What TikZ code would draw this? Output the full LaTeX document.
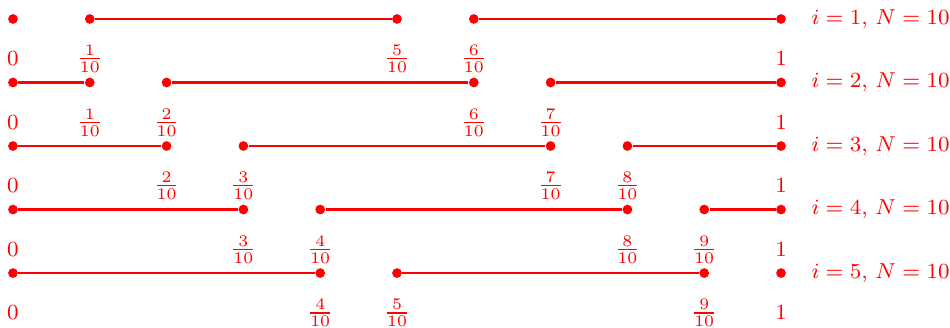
\documentclass[tikz,border=0pt]{standalone}
\usepackage{tikz}
\usepackage{xcolor}

\begin{document}
\begin{tikzpicture}[
x=1cm,
y=0.827cm,
point/.style={circle, fill=red, inner sep=0pt, minimum size=3.6pt},
segment/.style={red, line width=0.9pt},
etiquette/.style={red, font=\footnotesize, inner sep=0pt},
titre/.style={red, font=\footnotesize, inner sep=0pt, anchor=west}
]

% Cadre
\useasboundingbox (-0.169,0.299) rectangle (12.2,-4.85);

% Ligne i = 1
\node[point] (a0) at (0,0) {};
\node[point] (a1) at (1,0) {};
\node[point] (a5) at (5,0) {};
\node[point] (a6) at (6,0) {};
\node[point] (a10) at (10,0) {};
\draw[segment] (a1) -- (a5);
\draw[segment] (a6) -- (a10);
\node[etiquette] (la0) at ([yshift=-0.52cm]a0) {$0$};
\node[etiquette] (la1) at ([yshift=-0.52cm]a1) {$\frac{1}{10}$};
\node[etiquette] (la5) at ([yshift=-0.52cm]a5) {$\frac{5}{10}$};
\node[etiquette] (la6) at ([yshift=-0.52cm]a6) {$\frac{6}{10}$};
\node[etiquette] (la10) at ([yshift=-0.52cm]a10) {$1$};
\node[titre] (ta) at ([xshift=0.32cm]a10.east) {$i=1,\,N=10$};

% Ligne i = 2
\node[point] (b0) at (0,-1) {};
\node[point] (b1) at (1,-1) {};
\node[point] (b2) at (2,-1) {};
\node[point] (b6) at (6,-1) {};
\node[point] (b7) at (7,-1) {};
\node[point] (b10) at (10,-1) {};
\draw[segment] (b0) -- (b1);
\draw[segment] (b2) -- (b6);
\draw[segment] (b7) -- (b10);
\node[etiquette] (lb0) at ([yshift=-0.52cm]b0) {$0$};
\node[etiquette] (lb1) at ([yshift=-0.52cm]b1) {$\frac{1}{10}$};
\node[etiquette] (lb2) at ([yshift=-0.52cm]b2) {$\frac{2}{10}$};
\node[etiquette] (lb6) at ([yshift=-0.52cm]b6) {$\frac{6}{10}$};
\node[etiquette] (lb7) at ([yshift=-0.52cm]b7) {$\frac{7}{10}$};
\node[etiquette] (lb10) at ([yshift=-0.52cm]b10) {$1$};
\node[titre] (tb) at ([xshift=0.32cm]b10.east) {$i=2,\,N=10$};

% Ligne i = 3
\node[point] (c0) at (0,-2) {};
\node[point] (c2) at (2,-2) {};
\node[point] (c3) at (3,-2) {};
\node[point] (c7) at (7,-2) {};
\node[point] (c8) at (8,-2) {};
\node[point] (c10) at (10,-2) {};
\draw[segment] (c0) -- (c2);
\draw[segment] (c3) -- (c7);
\draw[segment] (c8) -- (c10);
\node[etiquette] (lc0) at ([yshift=-0.52cm]c0) {$0$};
\node[etiquette] (lc2) at ([yshift=-0.52cm]c2) {$\frac{2}{10}$};
\node[etiquette] (lc3) at ([yshift=-0.52cm]c3) {$\frac{3}{10}$};
\node[etiquette] (lc7) at ([yshift=-0.52cm]c7) {$\frac{7}{10}$};
\node[etiquette] (lc8) at ([yshift=-0.52cm]c8) {$\frac{8}{10}$};
\node[etiquette] (lc10) at ([yshift=-0.52cm]c10) {$1$};
\node[titre] (tc) at ([xshift=0.32cm]c10.east) {$i=3,\,N=10$};

% Ligne i = 4
\node[point] (d0) at (0,-3) {};
\node[point] (d3) at (3,-3) {};
\node[point] (d4) at (4,-3) {};
\node[point] (d8) at (8,-3) {};
\node[point] (d9) at (9,-3) {};
\node[point] (d10) at (10,-3) {};
\draw[segment] (d0) -- (d3);
\draw[segment] (d4) -- (d8);
\draw[segment] (d9) -- (d10);
\node[etiquette] (ld0) at ([yshift=-0.52cm]d0) {$0$};
\node[etiquette] (ld3) at ([yshift=-0.52cm]d3) {$\frac{3}{10}$};
\node[etiquette] (ld4) at ([yshift=-0.52cm]d4) {$\frac{4}{10}$};
\node[etiquette] (ld8) at ([yshift=-0.52cm]d8) {$\frac{8}{10}$};
\node[etiquette] (ld9) at ([yshift=-0.52cm]d9) {$\frac{9}{10}$};
\node[etiquette] (ld10) at ([yshift=-0.52cm]d10) {$1$};
\node[titre] (td) at ([xshift=0.32cm]d10.east) {$i=4,\,N=10$};

% Ligne i = 5
\node[point] (e0) at (0,-4) {};
\node[point] (e4) at (4,-4) {};
\node[point] (e5) at (5,-4) {};
\node[point] (e9) at (9,-4) {};
\node[point] (e10) at (10,-4) {};
\draw[segment] (e0) -- (e4);
\draw[segment] (e5) -- (e9);
\node[etiquette] (le0) at ([yshift=-0.52cm]e0) {$0$};
\node[etiquette] (le4) at ([yshift=-0.52cm]e4) {$\frac{4}{10}$};
\node[etiquette] (le5) at ([yshift=-0.52cm]e5) {$\frac{5}{10}$};
\node[etiquette] (le9) at ([yshift=-0.52cm]e9) {$\frac{9}{10}$};
\node[etiquette] (le10) at ([yshift=-0.52cm]e10) {$1$};
\node[titre] (te) at ([xshift=0.32cm]e10.east) {$i=5,\,N=10$};

\end{tikzpicture}
\end{document}
